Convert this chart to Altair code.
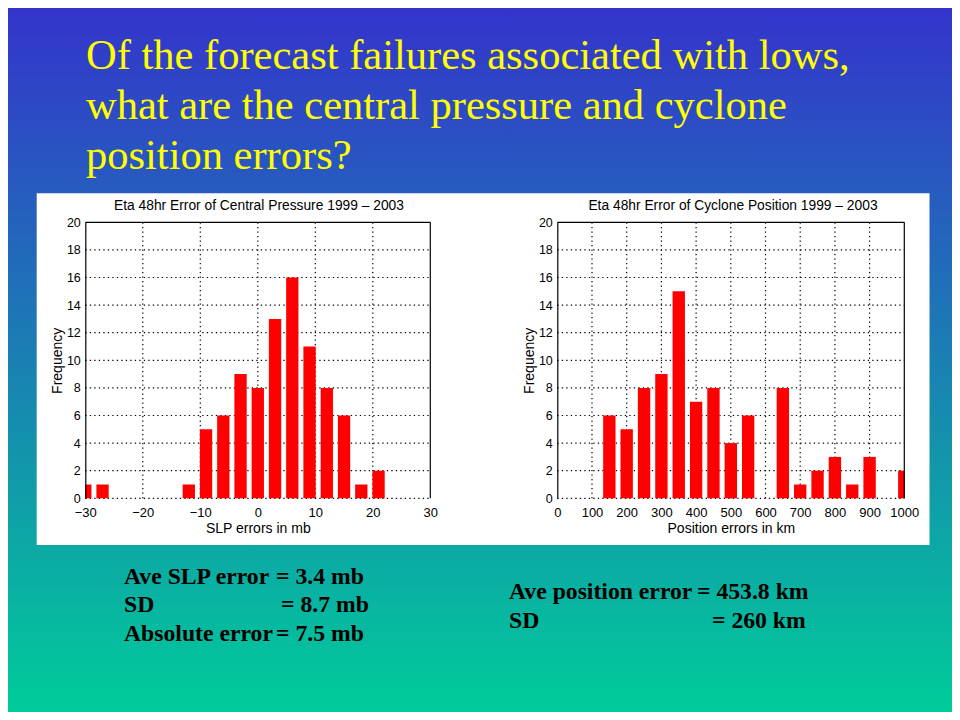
import altair as alt
import pandas as pd

# ---------------- data ----------------
title_lines = [
    "Of the forecast failures associated with lows,",
    "what are the central pressure and cyclone",
    "position errors?",
]

slp_centers = [-30, -27, -24, -21, -18, -15, -12, -9, -6, -3, 0, 3, 6, 9, 12, 15, 18, 21, 24, 27, 30]
slp_counts = [1, 1, 0, 0, 0, 0, 1, 5, 6, 9, 8, 13, 16, 11, 8, 6, 1, 2, 0, 0, 0]

pos_centers = [0, 50, 100, 150, 200, 250, 300, 350, 400, 450, 500, 550, 600, 650, 700, 750, 800, 850, 900, 950, 1000]
pos_counts = [0, 0, 0, 6, 5, 8, 9, 15, 7, 8, 4, 6, 0, 8, 1, 2, 3, 1, 3, 0, 2]

slp_ticks = [-30, -20, -10, 0, 10, 20, 30]
pos_ticks = [0, 100, 200, 300, 400, 500, 600, 700, 800, 900, 1000]
freq_ticks = [0, 2, 4, 6, 8, 10, 12, 14, 16, 18, 20]

left_title = "Eta 48hr Error of Central Pressure 1999 \u2013 2003"
right_title = "Eta 48hr Error of Cyclone Position 1999 \u2013 2003"
left_xlabel = "SLP errors in mb"
right_xlabel = "Position errors in km"
ylabel = "Frequency"

left_stats_labels = ["Ave SLP error", "SD", "Absolute error"]
left_stats_values = ["= 3.4 mb", "= 8.7 mb", "= 7.5 mb"]
right_stats_labels = ["Ave position error", "SD"]
right_stats_values = ["= 453.8 km", "= 260 km"]

# ---------------- layout / style ----------------
W, H = 944, 704
LX = [77.3, 422.3]
RX = [549.3, 896.3]
YR = [490.3, 214.3]
SANS = "Liberation Sans"
SERIF = "Liberation Serif"
DOT = [1.3, 3.2]
TICK_FS = 13
YTICK_FS = 12.5
LABEL_FS = 14
STAT_FS = 23.7


def one():
    return alt.Data(values=[{"k": 0}])


def text_layer(x, y, s, size, font, color="black", weight="normal", align="left"):
    return alt.Chart(one()).mark_text(
        font=font, fontSize=size, color=color, fontWeight=weight,
        align=align, baseline="alphabetic",
    ).encode(x=alt.value(x), y=alt.value(y), text=alt.value(s))


def histogram(centers, counts, ticks, half, xrange, xlabel):
    dom = [ticks[0], ticks[-1]]
    fmin, fmax = freq_ticks[0], freq_ticks[-1]
    xs = alt.Scale(domain=dom, range=xrange, clamp=True, nice=False, zero=False)
    ys = alt.Scale(domain=[fmin, fmax], range=YR, nice=False, zero=False)

    xaxis = alt.Axis(
        orient="bottom", offset=YR[0] - H, values=ticks, format="d", zindex=2,
        grid=False, domain=False, ticks=False, tickSize=0, labelPadding=8,
        labelOverlap=False, labelFlush=False,
        labelFont=SANS, labelFontSize=TICK_FS, labelColor="black",
        title=xlabel, titleFont=SANS, titleFontSize=LABEL_FS, titleFontWeight="normal",
        titleColor="black", titlePadding=2,
    )
    yaxis = alt.Axis(
        orient="left", offset=-xrange[0], values=freq_ticks, format="d", zindex=2,
        grid=False, domain=True, domainColor="black", domainWidth=1.2,
        ticks=False, tickSize=0, labelPadding=5,
        labelOverlap=False, labelFlush=False,
        labelFont=SANS, labelFontSize=YTICK_FS, labelColor="black",
        title=ylabel, titleFont=SANS, titleFontSize=LABEL_FS, titleFontWeight="normal",
        titleColor="black", titlePadding=2,
    )

    vgrid = alt.Chart(pd.DataFrame({"t": ticks[1:-1]})).transform_calculate(
        a=f"{fmin}", b=f"{fmax}"
    ).mark_rule(color="#000000", strokeWidth=1.2, strokeDash=DOT).encode(
        x=alt.X("t:Q", scale=xs, axis=None),
        y=alt.Y("a:Q", scale=ys, axis=None),
        y2="b:Q",
    )
    hgrid = alt.Chart(pd.DataFrame({"t": freq_ticks[:-1]})).transform_calculate(
        a=f"{dom[0]}", b=f"{dom[1]}"
    ).mark_rule(color="#000000", strokeWidth=1.2, strokeDash=DOT).encode(
        y=alt.Y("t:Q", scale=ys, axis=None),
        x=alt.X("a:Q", scale=xs, axis=None),
        x2="b:Q",
    )
    df = pd.DataFrame({"c": centers, "n": counts})
    bars = alt.Chart(df).transform_calculate(
        lo=f"datum.c - {half}", hi=f"datum.c + {half}", z="0"
    ).mark_rect(color="#ff0000").encode(
        x=alt.X("lo:Q", scale=xs, axis=xaxis),
        x2="hi:Q",
        y=alt.Y("n:Q", scale=ys, axis=yaxis),
        y2="z:Q",
    )
    top = alt.Chart(one()).transform_calculate(
        a=f"{dom[0]}", b=f"{dom[1]}", t=f"{fmax}"
    ).mark_rule(color="black", strokeWidth=1.2).encode(
        y=alt.Y("t:Q", scale=ys, axis=None),
        x=alt.X("a:Q", scale=xs, axis=None),
        x2="b:Q",
    )
    right = alt.Chart(one()).transform_calculate(
        a=f"{fmin}", b=f"{fmax}", t=f"{dom[1]}"
    ).mark_rule(color="black", strokeWidth=1.2).encode(
        x=alt.X("t:Q", scale=xs, axis=None),
        y=alt.Y("a:Q", scale=ys, axis=None),
        y2="b:Q",
    )
    return [vgrid, hgrid, bars, top, right]


bg = alt.Chart(one()).mark_rect(
    fill=alt.Gradient(
        gradient="linear",
        stops=[alt.GradientStop(color="#3434cc", offset=0),
               alt.GradientStop(color="#00cc99", offset=1)],
        x1=0, x2=0, y1=0, y2=1,
    ),
    strokeWidth=0,
).encode(x=alt.value(0), x2=alt.value(W), y=alt.value(0), y2=alt.value(H))

panel = alt.Chart(one()).mark_rect(fill="white", strokeWidth=0).encode(
    x=alt.value(28.7), x2=alt.value(921.5), y=alt.value(185.3), y2=alt.value(537)
)

left_hist = histogram(slp_centers, slp_counts, slp_ticks, 1.07, LX, left_xlabel)
right_hist = histogram(pos_centers, pos_counts, pos_ticks, 17.8, RX, right_xlabel)

texts = []
for i, line in enumerate(title_lines):
    texts.append(text_layer(78, 61 + 50 * i, line, 42.5, SERIF, color="#ffff00"))
texts.append(text_layer(251, 202, left_title, 13.8, SANS, align="center"))
texts.append(text_layer(725, 202, right_title, 13.8, SANS, align="center"))

ys0 = 575.5
lh = 28.7
for i, (lab, val) in enumerate(zip(left_stats_labels, left_stats_values)):
    texts.append(text_layer(116, ys0 + i * lh, lab, STAT_FS, SERIF, weight="bold"))
    texts.append(text_layer(268 if i != 1 else 273, ys0 + i * lh, val, STAT_FS, SERIF, weight="bold"))

yr0 = 591
for i, (lab, val) in enumerate(zip(right_stats_labels, right_stats_values)):
    texts.append(text_layer(501, yr0 + i * lh, lab, STAT_FS, SERIF, weight="bold"))
    texts.append(text_layer(689 if i == 0 else 704, yr0 + i * lh, val, STAT_FS, SERIF, weight="bold"))

chart = alt.layer(bg, panel, *left_hist, *right_hist, *texts).resolve_scale(
    x="independent", y="independent"
).properties(
    width=W, height=H, autosize=alt.AutoSizeParams(type="none"), padding=0
).configure_view(stroke=None)

chart.save("out.html", embed_options={"renderer": "svg", "actions": False})
